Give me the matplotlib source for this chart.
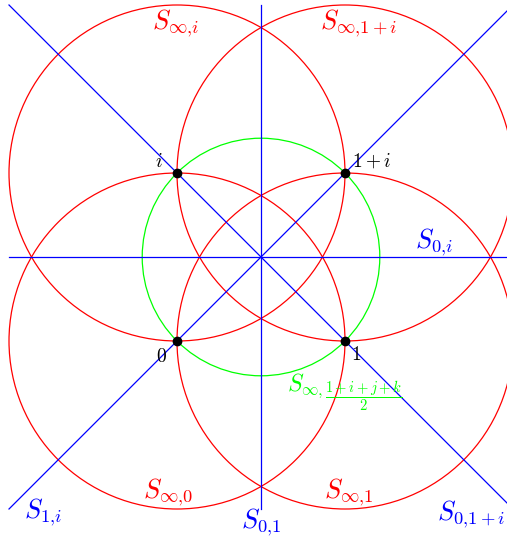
import numpy as np
import matplotlib.pyplot as plt
from matplotlib.patches import Circle

plt.rcParams['mathtext.fontset'] = 'cm'

# red unit circles centred at the four points
red_centers = [(0, 0), (1, 0), (0, 1), (1, 1)]
red_radius = 1.0
# green circle through the four points
green_center = (0.5, 0.5)
green_radius = np.sqrt(0.5)

# blue lines (x0, y0, x1, y1)
blue_lines = [(-1, 0.5, 2, 0.5), (0.5, -1, 0.5, 2), (-1, -1, 2, 2), (-1, 2, 2, -1)]

points_x = [0, 1, 0, 1]
points_y = [0, 0, 1, 1]
point_labels = [r'$0$', r'$1$', r'$i$', r'$1+i$']
point_label_pos = [(-0.095, -0.09), (1.065, -0.08), (-0.11, 1.07), (1.16, 1.07)]

red_labels = [r'$S_{\infty{,}i}$', r'$S_{\infty{,}1+i}$', r'$S_{\infty{,}0}$', r'$S_{\infty{,}1}$']
red_label_pos = [(-0.01, 1.89), (1.08, 1.89), (-0.05, -0.9), (1.02, -0.9)]

blue_labels = [r'$S_{0{,}i}$', r'$S_{1{,}i}$', r'$S_{0{,}1}$', r'$S_{0{,}1+i}$']
blue_label_pos = [(1.53, 0.59), (-0.8, -1.02), (0.5, -1.08), (1.75, -1.03)]

# green label split in two: S with subscript, then the fraction
green_label_head = r'$S_{\infty{,}}$'
green_label_frac = r'$\dfrac{1+i+j+k}{2}$'
green_head_pos = (0.655, -0.298)
green_frac_pos = (0.88, -0.325)

fig = plt.figure(figsize=(5.07, 5.41), dpi=100)
ax = fig.add_axes([0, 0, 1, 1])
ax.set_xlim((0 - 177) / 168, (507 - 177) / 168)
ax.set_ylim((341 - 541) / 168, 341 / 168)
ax.set_aspect('equal')
ax.axis('off')

lw = 0.9
for x0, y0, x1, y1 in blue_lines:
    ax.plot([x0, x1], [y0, y1], color='#0000ff', lw=lw)

for c in red_centers:
    ax.add_patch(Circle(c, red_radius, fill=False, ec='#ff0000', lw=lw))

ax.add_patch(Circle(green_center, green_radius, fill=False, ec='#00ff00', lw=lw))

ax.plot(points_x, points_y, 'o', color='black', ms=6, zorder=5)

for t, (x, y) in zip(point_labels, point_label_pos):
    ax.text(x, y, t, fontsize=14, ha='center', va='center')
for t, (x, y) in zip(red_labels, red_label_pos):
    ax.text(x, y, t, fontsize=19, ha='center', va='center', color='#ff0000')
for t, (x, y) in zip(blue_labels, blue_label_pos):
    ax.text(x, y, t, fontsize=19, ha='center', va='center', color='#0000ff')
ax.text(green_head_pos[0], green_head_pos[1], green_label_head, fontsize=17,
        ha='left', va='baseline', color='#00ff00')
ax.text(green_frac_pos[0], green_frac_pos[1], green_label_frac, fontsize=10.5,
        ha='left', va='center', color='#00ff00')

fig.savefig('out.png', dpi=100)
